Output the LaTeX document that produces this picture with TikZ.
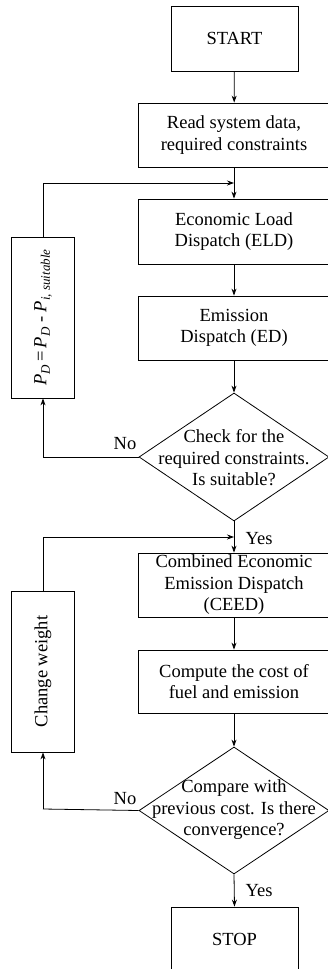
\documentclass[tikz,border=0pt]{standalone}
\usepackage{fontspec}
\setmainfont{Liberation Serif}
\usetikzlibrary{shapes.geometric,arrows.meta}
\newcommand\lowsub[1]{\raisebox{-0.4ex}{\fontsize{13}{13}\selectfont\textit{#1}}}
\begin{document}
\begin{tikzpicture}[x=1pt,y=-1pt,
  font=\fontsize{18.5}{21.5}\selectfont,
  line width=0.8pt,
  arr/.style={-{Stealth[length=7pt,width=5pt]}},
  box/.style={draw,rectangle,inner sep=0pt,align=center},
  dia/.style={draw,diamond,inner sep=0pt,minimum width=190pt,minimum height=128pt},
  lbl/.style={inner sep=0pt,align=center}]
\useasboundingbox (0,0) rectangle (327,969);
\node[box,minimum width=127pt,minimum height=65pt] (start) at (234.5,38.5) {START};
\node[box,minimum width=192pt,minimum height=64pt] (read) at (234,135) {Read system data,\\required constraints};
\node[box,minimum width=192pt,minimum height=65pt] (eld) at (234,231.5) {Economic Load\\Dispatch (ELD)};
\node[box,minimum width=192pt,minimum height=64pt] (ed) at (234,328) {Emission\\Dispatch (ED)};
\node[dia] (d1) at (234,457) {};
\node[lbl] (d1t) at (234,458) {Check for the\\required constraints.\\Is suitable?};
\node[box,minimum width=192pt,minimum height=64pt] (ceed) at (234,585) {Combined Economic\\Emission Dispatch\\(CEED)};
\node[box,minimum width=192pt,minimum height=63pt] (cmp) at (234,681.5) {Compute the cost of\\fuel and emission};
\node[dia,minimum height=127pt] (d2) at (234,810.5) {};
\node[lbl] (d2t) at (234,810) {Compare with\\previous cost. Is there\\convergence?};
\node[box,minimum width=127pt,minimum height=65pt] (stop) at (234.5,939.5) {STOP};
\node[box,minimum width=63pt,minimum height=161pt] (pd) at (42.5,317.5) {};
\node[lbl,rotate=90] (pdt) at (43,317.5) {\textit{P}\lowsub{D}\,=\,\textit{P}\lowsub{D} - \textit{P}\lowsub{i, suitable}};
\node[box,minimum width=63pt,minimum height=161pt] (cw) at (42.5,671.5) {};
\node[lbl,rotate=90] (cwt) at (43,671.5) {Change weight};
\coordinate (j1) at (234,183);
\coordinate (j2) at (234,537);
\coordinate (n1) at (43,457);
\coordinate (n2) at (43,809);
\draw[arr] (start) -- (read);
\draw[arr] (read) -- (eld);
\draw[arr] (eld) -- (ed);
\draw[arr] (pd.north -| n1) |- (j1);
\draw[arr] (ed) -- (d1.north);
\draw (d1.west) -- (n1);
\draw[arr] (n1) -- (pd.south -| n1);
\draw[arr] (d1.south) -- (ceed.north);
\draw[arr] (cw.north -| n2) |- (j2);
\draw[arr] (ceed) -- (cmp);
\draw[arr] (cmp) -- (d2.north);
\draw (d2.west) -- (n2);
\draw[arr] (n2) -- (cw.south -| n2);
\draw[arr] (d2.south) -- (stop.north);
\node[lbl] (no1) at (125,444) {No};
\node[lbl] (no2) at (125,799) {No};
\node[lbl] (yes1) at (259,539) {Yes};
\node[lbl] (yes2) at (259,891) {Yes};
\end{tikzpicture}
\end{document}
